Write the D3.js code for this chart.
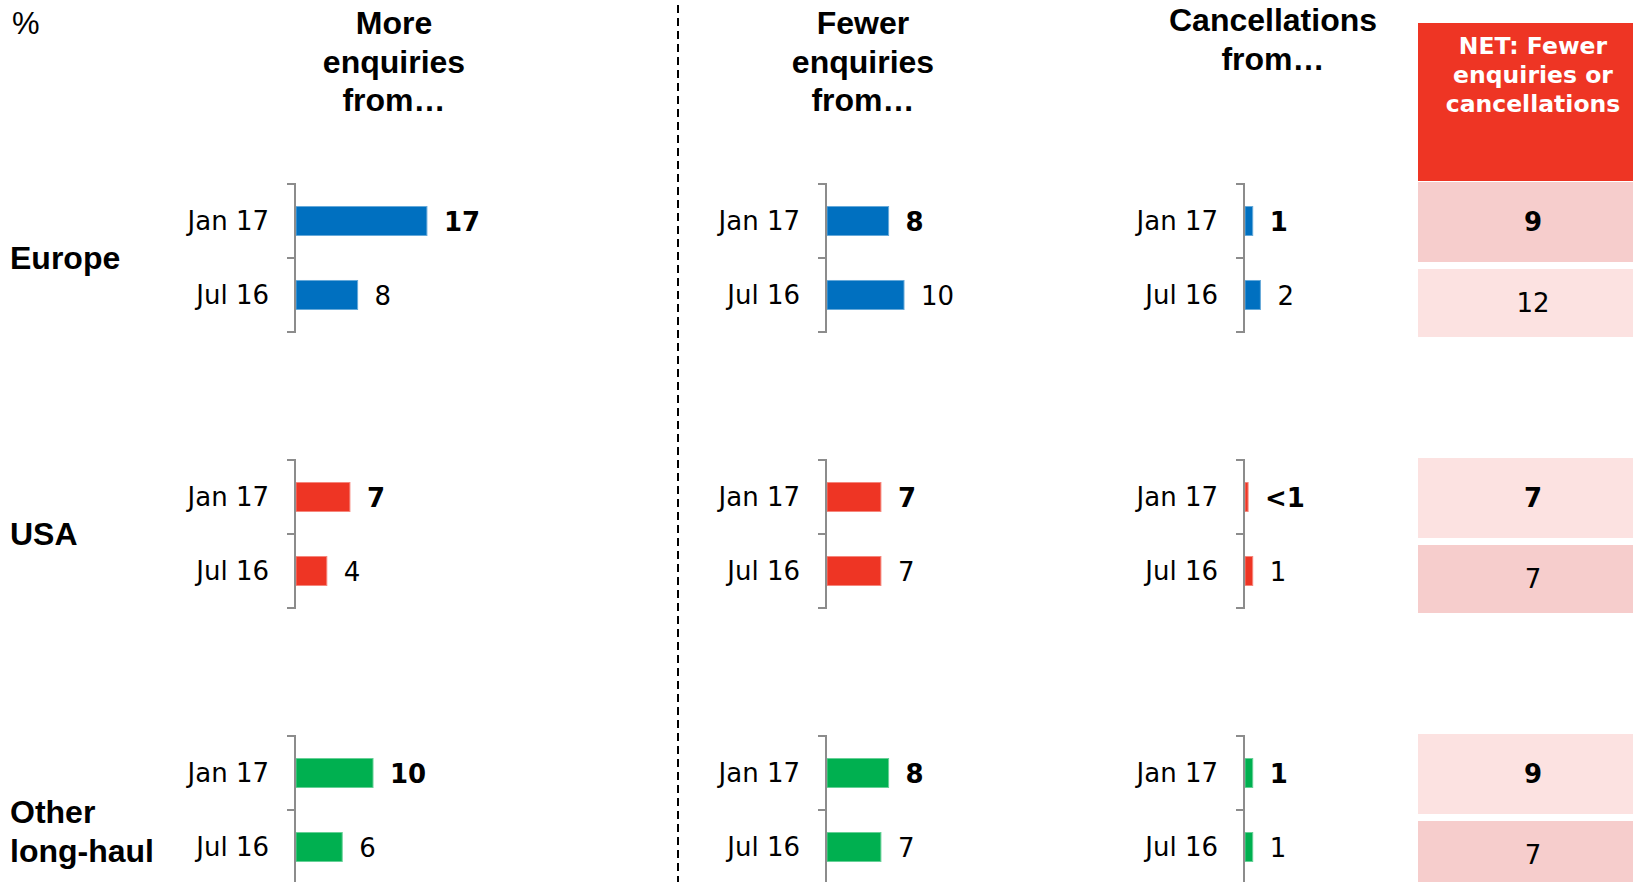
<!DOCTYPE html>
<html><head><meta charset="utf-8">
<script src="https://cdn.jsdelivr.net/npm/d3@7"></script>
<style>
body{margin:0;background:#fff;}
svg{display:block;}
</style></head><body>
<script>
// ---------- data ----------
const regions = ["Europe", "USA", "Other long-haul"];
const regionLines = [["Europe"], ["USA"], ["Other", "long-haul"]];
const periods = ["Jan 17", "Jul 16"];
const panelTitles = [["More", "enquiries", "from…"], ["Fewer", "enquiries", "from…"], ["Cancellations", "from…"]];
const moreEnquiries = [[17, 8], [7, 4], [10, 6]];
const fewerEnquiries = [[8, 10], [7, 7], [8, 7]];
const cancellations = [[1, 2], [0.4, 1], [1, 1]];
const cancellationLabels = [["1", "2"], ["<1", "1"], ["1", "1"]];
const netTitle = ["NET: Fewer", "enquiries or", "cancellations"];
const netValues = [[9, 12], [7, 7], [9, 7]];

// ---------- styles ----------
const W = 1633, H = 882;
const regionColors = ["#0070C0", "#EE3524", "#00B050"];
const netDark = "#F6CDCC", netLight = "#FCE2E1";
const netShades = [[netDark, netLight], [netLight, netDark], [netLight, netDark]];
const verdana = "'DejaVu Sans', Verdana, sans-serif";
const arial = "'Liberation Sans', Arial, sans-serif";

const svg = d3.select("body").append("svg").attr("width", W).attr("height", H);

// scales
const yGroup = d3.scaleBand().domain(regions).range([184, 884]).paddingInner(0.4638);
const x = d3.scaleLinear().domain([0, 20]).range([0, 154]);
const barH = 29;

// % label
svg.append("text").attr("x", 12).attr("y", 23).attr("dy", "0.35em")
  .style("font-family", arial).style("font-size", "31px").text("%");

// dashed separator
svg.append("line").attr("x1", 678).attr("x2", 678).attr("y1", 5).attr("y2", H)
  .attr("stroke", "#000").attr("stroke-width", 2).attr("stroke-dasharray", "8,5");

// region labels
regions.forEach((r, ri) => {
  const cy = yGroup(r) + yGroup.bandwidth() / 2;
  const lines = regionLines[ri];
  const t = svg.append("text").attr("x", 10)
    .style("font-family", arial).style("font-weight", "bold").style("font-size", "32px");
  lines.forEach((ln, li) => {
    const y0 = lines.length === 1 ? cy : cy + 2 + li * 39;
    t.append("tspan").attr("x", 10).attr("y", y0).attr("dy", "0.35em").text(ln);
  });
});

// panels
const panels = [
  { x0: 295, values: moreEnquiries, labels: null, titleX: 394, titleY: 23 },
  { x0: 826, values: fewerEnquiries, labels: null, titleX: 863, titleY: 23 },
  { x0: 1244, values: cancellations, labels: cancellationLabels, titleX: 1273, titleY: 20 }
];

panels.forEach((p, pi) => {
  const pg = svg.append("g").attr("transform", `translate(${p.x0},0)`);
  // title
  const tt = svg.append("text").attr("text-anchor", "middle")
    .style("font-family", arial).style("font-weight", "bold").style("font-size", "32px");
  panelTitles[pi].forEach((ln, li) => {
    tt.append("tspan").attr("x", p.titleX).attr("y", p.titleY + li * 38.5).attr("dy", "0.35em").text(ln);
  });

  regions.forEach((r, ri) => {
    const top = yGroup(r);
    const yIn = d3.scaleBand().domain(periods).range([top, top + yGroup.bandwidth()]);
    const gg = pg.append("g");
    const col = regionColors[ri];

    // bars
    gg.selectAll("rect.bar").data(periods).join("rect").attr("class", "bar")
      .attr("x", x(0) + 1)
      .attr("y", d => yIn(d) + (yIn.step() - barH) / 2)
      .attr("width", (d, i) => x(p.values[ri][i]))
      .attr("height", barH)
      .attr("fill", col)
      .attr("stroke", d3.interpolateRgb(col, "#fff")(0.4))
      .attr("stroke-width", 1);

    // value labels
    gg.selectAll("text.val").data(periods).join("text").attr("class", "val")
      .attr("x", (d, i) => x(p.values[ri][i]) + 18)
      .attr("y", d => yIn(d) + yIn.step() / 2)
      .attr("dy", "0.38em")
      .style("font-family", verdana).style("font-size", "26px")
      .style("font-weight", (d, i) => i === 0 ? "bold" : "normal")
      .text((d, i) => p.labels ? p.labels[ri][i] : p.values[ri][i]);

    // category axis (labels)
    const ax = gg.append("g").call(d3.axisLeft(yIn).tickSize(0).tickPadding(26));
    ax.select(".domain").remove();
    ax.selectAll("text").attr("dy", "0.36em")
      .style("font-family", verdana).style("font-size", "26px").attr("fill", "#000");

    // bracket axis line with boundary ticks
    const bounds = [top, top + yIn.step(), top + 2 * yIn.step()];
    gg.append("line").attr("x1", 0).attr("x2", 0).attr("y1", top).attr("y2", top + yGroup.bandwidth())
      .attr("stroke", "#8C8C8C").attr("stroke-width", 2);
    gg.selectAll("line.tk").data(bounds).join("line").attr("class", "tk")
      .attr("x1", -8).attr("x2", 1).attr("y1", d => d).attr("y2", d => d)
      .attr("stroke", "#8C8C8C").attr("stroke-width", 2);
  });
});

// NET column
const netX = 1418, netW = 240, netCx = 1533;
svg.append("rect").attr("x", netX).attr("y", 23).attr("width", netW).attr("height", 158).attr("fill", "#EE3524");
const nt = svg.append("text").attr("text-anchor", "middle").attr("fill", "#fff")
  .style("font-family", verdana).style("font-weight", "bold").style("font-size", "23.5px");
netTitle.forEach((ln, li) => {
  nt.append("tspan").attr("x", netCx).attr("y", 46 + li * 29).attr("dy", "0.35em").text(ln);
});
const rowSpans = [[-2, 80], [85, 68]];
regions.forEach((r, ri) => {
  const top = yGroup(r);
  periods.forEach((pd, i) => {
    const y0 = top + rowSpans[i][0], h = rowSpans[i][1];
    svg.append("rect").attr("x", netX).attr("y", y0).attr("width", netW).attr("height", h)
      .attr("fill", netShades[ri][i]);
    svg.append("text").attr("x", netCx).attr("y", y0 + h / 2).attr("dy", "0.36em")
      .attr("text-anchor", "middle")
      .style("font-family", verdana).style("font-size", "26px")
      .style("font-weight", i === 0 ? "bold" : "normal")
      .text(netValues[ri][i]);
  });
});
</script>
</body></html>
